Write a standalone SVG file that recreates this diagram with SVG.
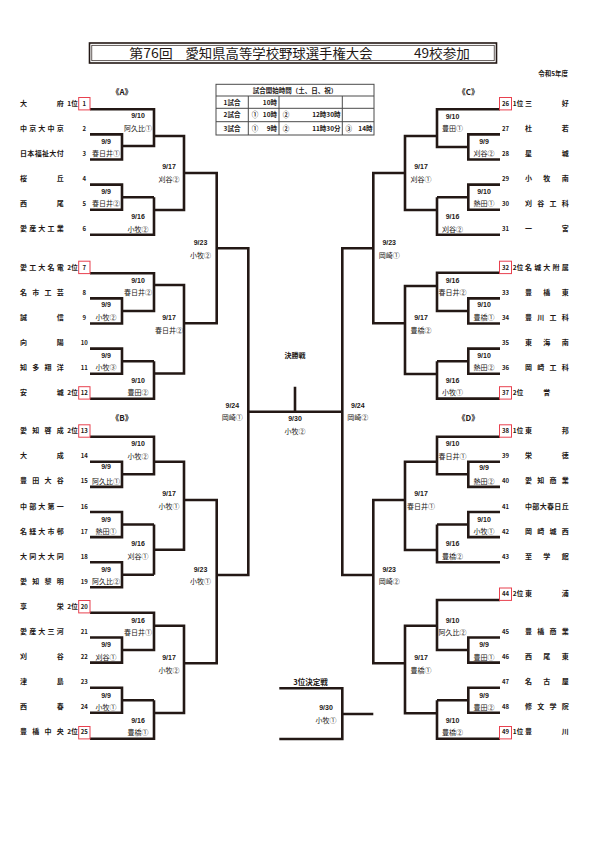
<svg xmlns="http://www.w3.org/2000/svg" width="595" height="842" viewBox="0 0 595 842">
<style>
text{font-family:"Noto Sans CJK JP","Noto Sans",sans-serif;fill:#231815}
.nm{font-size:7px;font-weight:bold;text-anchor:middle}
.no{font-size:6px;font-weight:bold;text-anchor:middle}
.rk{font-size:6.5px;font-weight:bold;text-anchor:middle}
.lb{font-size:7px;text-anchor:middle}
.dt{font-size:7px;text-anchor:middle;font-weight:bold;font-family:"Liberation Sans",sans-serif}
.sec{font-size:8px;font-weight:bold;text-anchor:middle}
.tb{font-size:6.5px;font-weight:bold}
.box{fill:none;stroke:#e8414f;stroke-width:1}
.ln{fill:none;stroke:#231815;stroke-width:2.6;stroke-linejoin:miter}
.tl{fill:none;stroke:#4a4a4a;stroke-width:1}
</style>
<rect width="595" height="842" fill="#fff"/>
<g id="title">
<rect x="89.5" y="43" width="407" height="20" fill="none" stroke="#231815" stroke-width="1.6"/>
<rect x="91.8" y="45.3" width="402.4" height="15.4" fill="none" stroke="#231815" stroke-width="0.7"/>
<text x="129.3" y="58.3" style="font-size:13px" textLength="43.5" lengthAdjust="spacingAndGlyphs">第76回</text>
<text x="185.5" y="58.3" style="font-size:13px" textLength="187" lengthAdjust="spacingAndGlyphs">愛知県高等学校野球選手権大会</text>
<text x="414" y="58.3" style="font-size:13px" textLength="56" lengthAdjust="spacingAndGlyphs">49校参加</text>
<text x="568" y="75.5" style="font-size:6.5px;font-weight:bold;text-anchor:end">令和5年度</text>
</g>
<g id="schedule">
<rect x="216" y="84.3" width="158" height="50.7" class="tl"/>
<path class="tl" d="M216 96H374M216 108.3H374M216 121.7H374M248.3 96V135M279 96V135M342.3 96V135"/>
<text class="tb" x="295" y="92.5" text-anchor="middle">試合開始時間（土、日、祝）</text>
<text class="tb" x="232" y="104.5" text-anchor="middle">1試合</text>
<text class="tb" x="277" y="104.5" text-anchor="end">10時</text>
<text class="tb" x="232" y="117.3" text-anchor="middle">2試合</text>
<text class="tb" x="255" y="117.3" text-anchor="middle">①</text>
<text class="tb" x="277" y="117.3" text-anchor="end">10時</text>
<text class="tb" x="286" y="117.3" text-anchor="middle">②</text>
<text class="tb" x="340.5" y="117.3" text-anchor="end">12時30時</text>
<text class="tb" x="232" y="130.6" text-anchor="middle">3試合</text>
<text class="tb" x="255" y="130.6" text-anchor="middle">①</text>
<text class="tb" x="277" y="130.6" text-anchor="end">9時</text>
<text class="tb" x="286" y="130.6" text-anchor="middle">②</text>
<text class="tb" x="340.5" y="130.6" text-anchor="end">11時30分</text>
<text class="tb" x="348.7" y="130.6" text-anchor="middle">③</text>
<text class="tb" x="372.5" y="130.6" text-anchor="end">14時</text>
</g>
<g id="sections">
<text class="sec" x="122" y="94.5">《A》</text>
<text class="sec" x="468.3" y="94.5">《C》</text>
<text class="sec" x="122" y="421.2">《B》</text>
<text class="sec" x="468.3" y="421.2">《D》</text>
<text class="lb" x="295" y="358" style="font-weight:bold">決勝戦</text>
<text class="lb" x="310.5" y="685" style="font-weight:bold;font-size:7.5px">3位決定戦</text>
</g>
<g id="connectors" class="ln">
<path d="M90 109.3H154V146H122M90 134.4H122V159.5H90M90 184.6H122V209.7H90M122 197.2H154M90 234.8H154V197.2M154 136H184V210H154M184 173H216.7V323.3H184"/>
<path d="M90 273.3H154V311H122M90 298.4H122V323.5H90M90 348.6H122V373.7H90M122 361.2H154M90 398.8H154V361.2M154 285H184V373.5H154M216.7 248.3H248.3V575H216.7"/>
<path d="M90 436.7H154V474.3H122M90 461.8H122V486.9H90M90 512H122V537.1H90M122 524.5H154M90 562.2H122V587.3H90M122 574.8H154M154 524.5V574.8M154 461.8H184V549.7H154M184 500H216.7V663.3H184"/>
<path d="M90 612.7H154V650H122M90 637.5H122V662.6H90M90 687.7H122V712.8H90M122 700.2H154M90 738.7H154V700.2M154 625.7H184V713H154"/>
<path d="M500 109.3H437V147H468.3M500 134.4H468.3V159.5H500M500 184.6H468.3V209.7H500M468.3 197.2H437M500 234.8H437V197.2M437 136H405V210H437M405 173H373.3V323.3H405"/>
<path d="M500 272.7H437V311H468.3M500 298.4H468.3V323.5H500M500 348.6H468.3V373.7H500M468.3 361.2H437M500 398.6H437V361.2M437 286H405V374H437M373.3 248.3H342.3V575H373.3"/>
<path d="M500 436.7H437V474.3H468.3M500 461.8H468.3V486.9H500M500 512H468.3V537.1H500M468.3 524.5H437M500 562.2H437V524.5M437 461.8H405V550H437M405 500H373.3V663.3H405"/>
<path d="M500 600H437V650H468.3M500 637.5H468.3V662.6H500M500 687.7H468.3V712.8H500M468.3 700.2H437M500 738.7H437V700.2M437 625.7H405V713.3H437"/>
<path d="M248.3 411.7H342.3M295 386.7V411.7"/>
<path d="M279.3 688.3H342.3V739H279.3M342.3 714H373.3"/>
</g>
<g id="match-labels">
<text class="dt" x="138" y="118.2">9/10</text><text class="lb" x="138" y="131.2">阿久比①</text>
<text class="dt" x="106" y="143.5">9/9</text><text class="lb" x="106" y="155.8">春日井①</text>
<text class="dt" x="169" y="169.2">9/17</text><text class="lb" x="169" y="181.5">刈谷②</text>
<text class="dt" x="106" y="193.8">9/9</text><text class="lb" x="106" y="206.2">春日井②</text>
<text class="dt" x="138" y="219.2">9/16</text><text class="lb" x="138" y="231.5">小牧②</text>
<text class="dt" x="138" y="282.5">9/10</text><text class="lb" x="138" y="294.8">春日井②</text>
<text class="dt" x="106" y="306.8">9/9</text><text class="lb" x="106" y="320.2">小牧②</text>
<text class="dt" x="169" y="320.2">9/17</text><text class="lb" x="169" y="332.5">春日井②</text>
<text class="dt" x="106" y="357.5">9/9</text><text class="lb" x="106" y="370.2">小牧③</text>
<text class="dt" x="138" y="382.5">9/10</text><text class="lb" x="138" y="395.2">豊田②</text>
<text class="dt" x="200.5" y="244.8">9/23</text><text class="lb" x="200.5" y="257.5">小牧②</text>
<text class="dt" x="138" y="445.8">9/10</text><text class="lb" x="138" y="458.5">小牧②</text>
<text class="dt" x="106" y="469.2">9/9</text><text class="lb" x="106" y="483.5">阿久比①</text>
<text class="dt" x="169" y="495.8">9/17</text><text class="lb" x="169" y="508.5">小牧①</text>
<text class="dt" x="106" y="521.5">9/9</text><text class="lb" x="106" y="533.8">熱田①</text>
<text class="dt" x="138" y="545.8">9/16</text><text class="lb" x="138" y="559.2">刈谷①</text>
<text class="dt" x="106" y="571.5">9/9</text><text class="lb" x="106" y="583.5">阿久比②</text>
<text class="dt" x="138" y="622.5">9/16</text><text class="lb" x="138" y="634.8">春日井①</text>
<text class="dt" x="106" y="646.8">9/9</text><text class="lb" x="106" y="660.2">刈谷①</text>
<text class="dt" x="169" y="660.2">9/17</text><text class="lb" x="169" y="672.5">小牧②</text>
<text class="dt" x="106" y="697.5">9/9</text><text class="lb" x="106" y="710.2">小牧①</text>
<text class="dt" x="138" y="722.5">9/16</text><text class="lb" x="138" y="735.2">豊橋①</text>
<text class="dt" x="200.5" y="571.5">9/23</text><text class="lb" x="200.5" y="584.2">小牧①</text>
<text class="dt" x="232.3" y="408.2">9/24</text><text class="lb" x="232.3" y="420.2">岡崎①</text>
<text class="dt" x="295" y="420.8">9/30</text><text class="lb" x="295" y="433.5">小牧②</text>
<text class="dt" x="452.5" y="118.5">9/10</text><text class="lb" x="452.5" y="131.2">豊田①</text>
<text class="dt" x="484" y="143.5">9/9</text><text class="lb" x="484" y="155.8">刈谷②</text>
<text class="dt" x="421" y="169.2">9/17</text><text class="lb" x="421" y="181.5">刈谷①</text>
<text class="dt" x="484" y="193.8">9/10</text><text class="lb" x="484" y="206.2">熱田①</text>
<text class="dt" x="452.5" y="219.2">9/16</text><text class="lb" x="452.5" y="231.5">刈谷②</text>
<text class="dt" x="452.5" y="282.5">9/16</text><text class="lb" x="452.5" y="294.8">春日井②</text>
<text class="dt" x="484" y="306.8">9/10</text><text class="lb" x="484" y="320.2">豊橋①</text>
<text class="dt" x="421" y="320.2">9/17</text><text class="lb" x="421" y="332.5">豊橋②</text>
<text class="dt" x="484" y="357.5">9/10</text><text class="lb" x="484" y="370.2">熱田②</text>
<text class="dt" x="452.5" y="382.5">9/16</text><text class="lb" x="452.5" y="395.2">小牧①</text>
<text class="dt" x="389.2" y="244.8">9/23</text><text class="lb" x="389.2" y="257.5">岡崎①</text>
<text class="dt" x="452.5" y="445.8">9/10</text><text class="lb" x="452.5" y="458.5">春日井①</text>
<text class="dt" x="484" y="469.8">9/9</text><text class="lb" x="484" y="483.5">熱田②</text>
<text class="dt" x="421" y="495.8">9/17</text><text class="lb" x="421" y="508.5">春日井①</text>
<text class="dt" x="484" y="521.5">9/10</text><text class="lb" x="484" y="534.2">小牧①</text>
<text class="dt" x="452.5" y="545.8">9/16</text><text class="lb" x="452.5" y="559.2">豊橋②</text>
<text class="dt" x="389.2" y="571.5">9/23</text><text class="lb" x="389.2" y="583.5">岡崎②</text>
<text class="dt" x="452.5" y="622.5">9/10</text><text class="lb" x="452.5" y="634.8">阿久比②</text>
<text class="dt" x="484" y="646.8">9/9</text><text class="lb" x="484" y="660.2">豊田①</text>
<text class="dt" x="421" y="660.2">9/17</text><text class="lb" x="421" y="672.5">豊橋①</text>
<text class="dt" x="484" y="697.5">9/9</text><text class="lb" x="484" y="710.2">豊田②</text>
<text class="dt" x="452.5" y="722.5">9/10</text><text class="lb" x="452.5" y="735.2">豊橋②</text>
<text class="dt" x="357.8" y="408.2">9/24</text><text class="lb" x="357.8" y="420.2">岡崎②</text>
<text class="dt" x="326" y="710.2">9/30</text><text class="lb" x="326" y="723.2">小牧①</text>
</g>
<g id="t1"><rect class="box" x="78.7" y="97.5" width="11.3" height="12.4"/><text class="no" x="84.3" y="105.8">1</text><text class="rk" x="72.5" y="105.8">1位</text><text class="nm" x="23.5 60.2" y="105.8">大府</text></g>
<g id="t2"><text class="no" x="84.3" y="130.9">2</text><text class="nm" x="23.5 32.68 41.85 51.03 60.2" y="130.9">中京大中京</text></g>
<g id="t3"><text class="no" x="84.3" y="156">3</text><text class="nm" x="23.5 30.84 38.18 45.52 52.86 60.2" y="156">日本福祉大付</text></g>
<g id="t4"><text class="no" x="84.3" y="181.1">4</text><text class="nm" x="23.5 60.2" y="181.1">桜丘</text></g>
<g id="t5"><text class="no" x="84.3" y="206.2">5</text><text class="nm" x="23.5 60.2" y="206.2">西尾</text></g>
<g id="t6"><text class="no" x="84.3" y="231.3">6</text><text class="nm" x="23.5 32.68 41.85 51.03 60.2" y="231.3">愛産大工業</text></g>
<g id="t7"><rect class="box" x="78.7" y="261.2" width="11.3" height="12.4"/><text class="no" x="84.3" y="269.8">7</text><text class="rk" x="72.5" y="269.8">2位</text><text class="nm" x="23.5 32.68 41.85 51.03 60.2" y="269.8">愛工大名電</text></g>
<g id="t8"><text class="no" x="84.3" y="294.9">8</text><text class="nm" x="23.5 35.73 47.97 60.2" y="294.9">名市工芸</text></g>
<g id="t9"><text class="no" x="84.3" y="320">9</text><text class="nm" x="23.5 60.2" y="320">誠信</text></g>
<g id="t10"><text class="no" x="84.3" y="345.1">10</text><text class="nm" x="23.5 60.2" y="345.1">向陽</text></g>
<g id="t11"><text class="no" x="84.3" y="370.2">11</text><text class="nm" x="23.5 35.73 47.97 60.2" y="370.2">知多翔洋</text></g>
<g id="t12"><rect class="box" x="78.7" y="386.7" width="11.3" height="12.4"/><text class="no" x="84.3" y="395.3">12</text><text class="rk" x="72.5" y="395.3">2位</text><text class="nm" x="23.5 60.2" y="395.3">安城</text></g>
<g id="t13"><rect class="box" x="78.7" y="424.8" width="11.3" height="12.4"/><text class="no" x="84.3" y="433.2">13</text><text class="rk" x="72.5" y="433.2">2位</text><text class="nm" x="23.5 35.73 47.97 60.2" y="433.2">愛知啓成</text></g>
<g id="t14"><text class="no" x="84.3" y="458.3">14</text><text class="nm" x="23.5 60.2" y="458.3">大成</text></g>
<g id="t15"><text class="no" x="84.3" y="483.4">15</text><text class="nm" x="23.5 35.73 47.97 60.2" y="483.4">豊田大谷</text></g>
<g id="t16"><text class="no" x="84.3" y="508.5">16</text><text class="nm" x="23.5 32.68 41.85 51.03 60.2" y="508.5">中部大第一</text></g>
<g id="t17"><text class="no" x="84.3" y="533.6">17</text><text class="nm" x="23.5 32.68 41.85 51.03 60.2" y="533.6">名経大市邨</text></g>
<g id="t18"><text class="no" x="84.3" y="558.7">18</text><text class="nm" x="23.5 32.68 41.85 51.03 60.2" y="558.7">大同大大同</text></g>
<g id="t19"><text class="no" x="84.3" y="583.8">19</text><text class="nm" x="23.5 35.73 47.97 60.2" y="583.8">愛知黎明</text></g>
<g id="t20"><rect class="box" x="78.7" y="600.5" width="11.3" height="12.4"/><text class="no" x="84.3" y="608.9">20</text><text class="rk" x="72.5" y="608.9">2位</text><text class="nm" x="23.5 60.2" y="608.9">享栄</text></g>
<g id="t21"><text class="no" x="84.3" y="634">21</text><text class="nm" x="23.5 32.68 41.85 51.03 60.2" y="634">愛産大三河</text></g>
<g id="t22"><text class="no" x="84.3" y="659.1">22</text><text class="nm" x="23.5 60.2" y="659.1">刈谷</text></g>
<g id="t23"><text class="no" x="84.3" y="684.2">23</text><text class="nm" x="23.5 60.2" y="684.2">津島</text></g>
<g id="t24"><text class="no" x="84.3" y="709.3">24</text><text class="nm" x="23.5 60.2" y="709.3">西春</text></g>
<g id="t25"><rect class="box" x="78.7" y="726.5" width="11.3" height="12.4"/><text class="no" x="84.3" y="734.4">25</text><text class="rk" x="72.5" y="734.4">2位</text><text class="nm" x="23.5 35.73 47.97 60.2" y="734.4">豊橋中央</text></g>
<g id="t26"><rect class="box" x="499.5" y="97.5" width="12" height="12.4"/><text class="no" x="505.5" y="105.8">26</text><text class="rk" x="518" y="105.8">1位</text><text class="nm" x="528.5 565.2" y="105.8">三好</text></g>
<g id="t27"><text class="no" x="505.5" y="130.9">27</text><text class="nm" x="528.5 565.2" y="130.9">杜若</text></g>
<g id="t28"><text class="no" x="505.5" y="156">28</text><text class="nm" x="528.5 565.2" y="156">星城</text></g>
<g id="t29"><text class="no" x="505.5" y="181.1">29</text><text class="nm" x="528.5 546.85 565.2" y="181.1">小牧南</text></g>
<g id="t30"><text class="no" x="505.5" y="206.2">30</text><text class="nm" x="528.5 540.73 552.97 565.2" y="206.2">刈谷工科</text></g>
<g id="t31"><text class="no" x="505.5" y="231.3">31</text><text class="nm" x="528.5 565.2" y="231.3">一宮</text></g>
<g id="t32"><rect class="box" x="499.5" y="261.2" width="12" height="12.4"/><text class="no" x="505.5" y="269.8">32</text><text class="rk" x="518" y="269.8">2位</text><text class="nm" x="528.5 537.68 546.85 556.03 565.2" y="269.8">名城大附属</text></g>
<g id="t33"><text class="no" x="505.5" y="294.9">33</text><text class="nm" x="528.5 546.85 565.2" y="294.9">豊橋東</text></g>
<g id="t34"><text class="no" x="505.5" y="320">34</text><text class="nm" x="528.5 540.73 552.97 565.2" y="320">豊川工科</text></g>
<g id="t35"><text class="no" x="505.5" y="345.1">35</text><text class="nm" x="528.5 546.85 565.2" y="345.1">東海南</text></g>
<g id="t36"><text class="no" x="505.5" y="370.2">36</text><text class="nm" x="528.5 540.73 552.97 565.2" y="370.2">岡崎工科</text></g>
<g id="t37"><rect class="box" x="499.5" y="386.7" width="12" height="12.4"/><text class="no" x="505.5" y="395.3">37</text><text class="rk" x="518" y="395.3">2位</text><text class="nm" x="546.85" y="395.3">誉</text></g>
<g id="t38"><rect class="box" x="499.5" y="424.8" width="12" height="12.4"/><text class="no" x="505.5" y="433.2">38</text><text class="rk" x="518" y="433.2">1位</text><text class="nm" x="528.5 565.2" y="433.2">東邦</text></g>
<g id="t39"><text class="no" x="505.5" y="458.3">39</text><text class="nm" x="528.5 565.2" y="458.3">栄徳</text></g>
<g id="t40"><text class="no" x="505.5" y="483.4">40</text><text class="nm" x="528.5 540.73 552.97 565.2" y="483.4">愛知商業</text></g>
<g id="t41"><text class="no" x="505.5" y="508.5">41</text><text class="nm" x="528.5 535.84 543.18 550.52 557.86 565.2" y="508.5">中部大春日丘</text></g>
<g id="t42"><text class="no" x="505.5" y="533.6">42</text><text class="nm" x="528.5 540.73 552.97 565.2" y="533.6">岡崎城西</text></g>
<g id="t43"><text class="no" x="505.5" y="558.7">43</text><text class="nm" x="528.5 546.85 565.2" y="558.7">至学館</text></g>
<g id="t44"><rect class="box" x="499.5" y="588" width="12" height="12.4"/><text class="no" x="505.5" y="596.3">44</text><text class="rk" x="518" y="596.3">2位</text><text class="nm" x="528.5 565.2" y="596.3">東浦</text></g>
<g id="t45"><text class="no" x="505.5" y="634">45</text><text class="nm" x="528.5 540.73 552.97 565.2" y="634">豊橋商業</text></g>
<g id="t46"><text class="no" x="505.5" y="659.1">46</text><text class="nm" x="528.5 546.85 565.2" y="659.1">西尾東</text></g>
<g id="t47"><text class="no" x="505.5" y="684.2">47</text><text class="nm" x="528.5 546.85 565.2" y="684.2">名古屋</text></g>
<g id="t48"><text class="no" x="505.5" y="709.3">48</text><text class="nm" x="528.5 540.73 552.97 565.2" y="709.3">修文学院</text></g>
<g id="t49"><rect class="box" x="499.5" y="726.5" width="12" height="12.4"/><text class="no" x="505.5" y="734.4">49</text><text class="rk" x="518" y="734.4">1位</text><text class="nm" x="528.5 565.2" y="734.4">豊川</text></g>
</svg>
